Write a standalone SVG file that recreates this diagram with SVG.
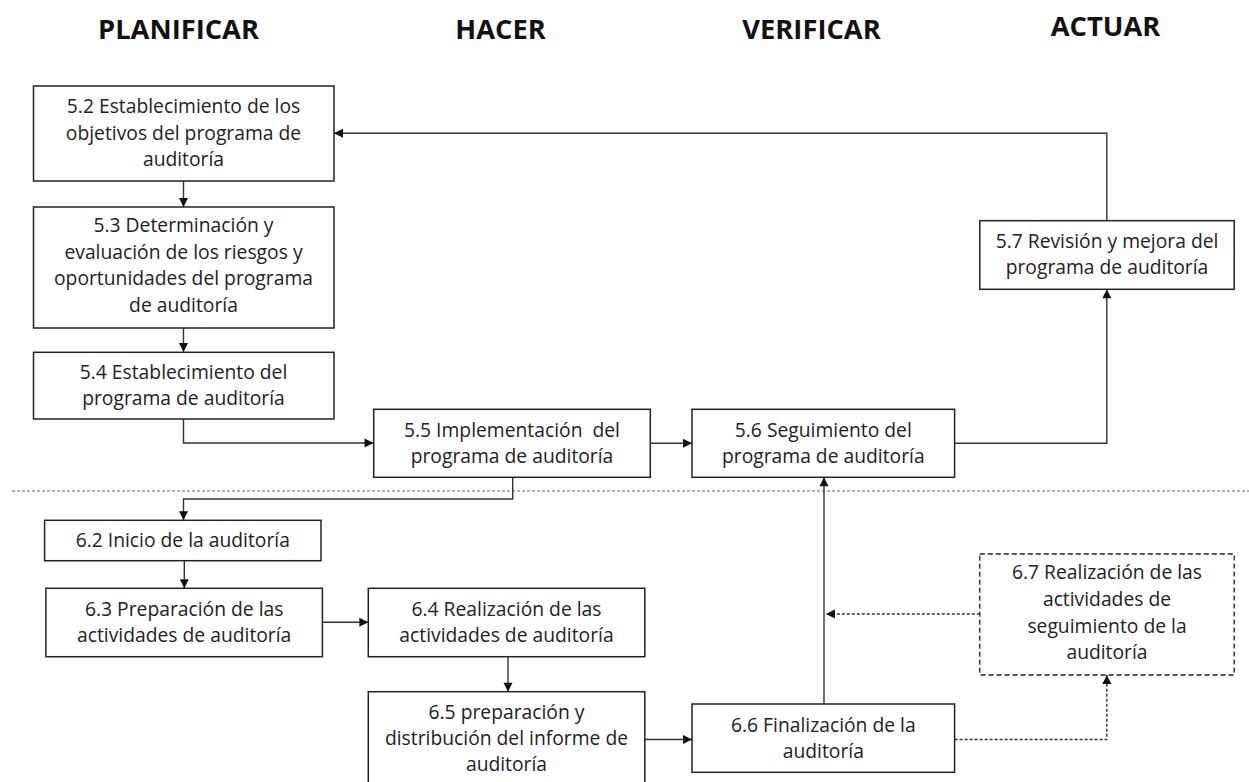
<svg xmlns="http://www.w3.org/2000/svg" width="1249" height="782" viewBox="0 0 1249 782">
<style>
.box{fill:#fff;stroke:#222;stroke-width:1.5}
.dbox{fill:#fff;stroke:#222;stroke-width:1.3;stroke-dasharray:5 3}
.t{font-family:"Open Sans","Noto Sans",sans-serif;font-size:19.3px;fill:#222;text-anchor:middle}
.h{font-family:"Open Sans","Liberation Sans",sans-serif;font-weight:bold;font-size:27.3px;fill:#111;text-anchor:middle}
.c{fill:none;stroke:#333;stroke-width:1.4}
.d{fill:none;stroke:#333;stroke-width:1.4;stroke-dasharray:3 2}
.sep{fill:none;stroke:#666;stroke-width:1;stroke-dasharray:3 2}
</style>
<defs>
<marker id="a" markerWidth="11" markerHeight="11" refX="10" refY="5.5" orient="auto" markerUnits="userSpaceOnUse">
<path d="M1,1 L10,5.5 L1,10 Z" fill="#111"/>
</marker>
</defs>
<rect width="1249" height="782" fill="#fff"/>
<g id="titles">
<text class="h" x="178.5" y="39">PLANIFICAR</text>
<text class="h" x="500.5" y="39">HACER</text>
<text class="h" x="811.5" y="39">VERIFICAR</text>
<text class="h" x="1105.5" y="36">ACTUAR</text>
</g>
<line class="sep" x1="12" y1="491" x2="1249" y2="491"/>
<g id="connectors">
<path class="c" d="M183.5,181 V207" marker-end="url(#a)"/>
<path class="c" d="M183.5,328 V352" marker-end="url(#a)"/>
<path class="c" d="M183.5,419 V443 H373.5" marker-end="url(#a)"/>
<path class="c" d="M650,443.3 H692" marker-end="url(#a)"/>
<path class="c" d="M954.6,443.3 H1106.8 V289.3" marker-end="url(#a)"/>
<path class="c" d="M1106.8,220.7 V133.3 H334" marker-end="url(#a)"/>
<path class="c" d="M512.7,477.3 V499 H183.5 V520.3" marker-end="url(#a)"/>
<path class="c" d="M184.3,560.7 V588.3" marker-end="url(#a)"/>
<path class="c" d="M322.4,622.3 H368.3" marker-end="url(#a)"/>
<path class="c" d="M508,656.7 V691.7" marker-end="url(#a)"/>
<path class="c" d="M644.8,739.5 H692" marker-end="url(#a)"/>
<path class="c" d="M824,704 V477.3" marker-end="url(#a)"/>
<path class="d" d="M979.8,614 H826" marker-end="url(#a)"/>
<path class="d" d="M954.6,739.5 H1106.8 V675" marker-end="url(#a)"/>
</g>
<g id="n52">
<rect class="box" x="33.5" y="86" width="300.5" height="95"/>
<text class="t" x="183.5" y="113">5.2 Establecimiento de los</text>
<text class="t" x="183.5" y="139.5">objetivos del programa de</text>
<text class="t" x="183.5" y="166">auditoría</text>
</g>
<g id="n53">
<rect class="box" x="33.5" y="207" width="300.5" height="121"/>
<text class="t" x="183.5" y="232">5.3 Determinación y</text>
<text class="t" x="183.5" y="258.5">evaluación de los riesgos y</text>
<text class="t" x="183.5" y="285">oportunidades del programa</text>
<text class="t" x="183.5" y="311.5">de auditoría</text>
</g>
<g id="n54">
<rect class="box" x="33.5" y="352.3" width="300.5" height="66.7"/>
<text class="t" x="183.5" y="379">5.4 Establecimiento del</text>
<text class="t" x="183.5" y="405">programa de auditoría</text>
</g>
<g id="n55">
<rect class="box" x="373.7" y="409.3" width="276.6" height="68"/>
<text class="t" x="512" y="436.7" xml:space="preserve">5.5 Implementación  del</text>
<text class="t" x="512" y="462.7">programa de auditoría</text>
</g>
<g id="n56">
<rect class="box" x="692" y="409.3" width="262.6" height="68"/>
<text class="t" x="823.3" y="436.7">5.6 Seguimiento del</text>
<text class="t" x="823.3" y="462.7">programa de auditoría</text>
</g>
<g id="n57">
<rect class="box" x="979.8" y="220.7" width="254.4" height="68.6"/>
<text class="t" x="1107" y="248.3">5.7 Revisión y mejora del</text>
<text class="t" x="1107" y="274.3">programa de auditoría</text>
</g>
<g id="n62">
<rect class="box" x="44.6" y="520.3" width="276.4" height="40.4"/>
<text class="t" x="182.8" y="546.7">6.2 Inicio de la auditoría</text>
</g>
<g id="n63">
<rect class="box" x="45.9" y="588.3" width="276.5" height="68.4"/>
<text class="t" x="184.2" y="616">6.3 Preparación de las</text>
<text class="t" x="184.2" y="641.7">actividades de auditoría</text>
</g>
<g id="n64">
<rect class="box" x="368.3" y="588.3" width="276.5" height="68.4"/>
<text class="t" x="506.5" y="616">6.4 Realización de las</text>
<text class="t" x="506.5" y="641.7">actividades de auditoría</text>
</g>
<g id="n65">
<rect class="box" x="368.3" y="691.7" width="276.5" height="95"/>
<text class="t" x="506.5" y="719">6.5 preparación y</text>
<text class="t" x="506.5" y="745">distribución del informe de</text>
<text class="t" x="506.5" y="770.7">auditoría</text>
</g>
<g id="n66">
<rect class="box" x="692" y="704" width="262.6" height="68.3"/>
<text class="t" x="823.3" y="731.7">6.6 Finalización de la</text>
<text class="t" x="823.3" y="757.7">auditoría</text>
</g>
<g id="n67">
<rect class="dbox" x="979.8" y="554" width="254.4" height="121"/>
<text class="t" x="1107" y="579.3">6.7 Realización de las</text>
<text class="t" x="1107" y="606">actividades de</text>
<text class="t" x="1107" y="632.7">seguimiento de la</text>
<text class="t" x="1107" y="659.3">auditoría</text>
</g>
</svg>
